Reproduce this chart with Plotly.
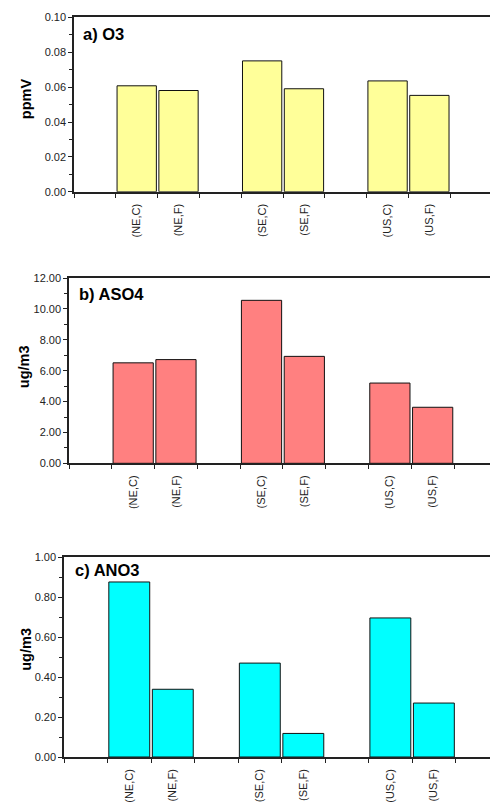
import plotly.graph_objects as go

W, H = 490, 803

# ---- data ----
categories = ["", "(NE,C)", "(NE,F)", " ", "(SE,C)", "(SE,F)", "  ", "(US,C)", "(US,F)", "   "]
bar_labels = ["(NE,C)", "(NE,F)", "(SE,C)", "(SE,F)", "(US,C)", "(US,F)"]
o3_values = [0.0608, 0.0581, 0.0751, 0.0591, 0.0636, 0.0553]
aso4_values = [6.51, 6.72, 10.56, 6.93, 5.20, 3.63]
ano3_values = [0.876, 0.339, 0.470, 0.118, 0.696, 0.270]

panel_titles = ["a) O3", "b) ASO4", "c) ANO3"]
unit_titles = ["ppmV", "ug/m3", "ug/m3"]
colors = ["#FFFF99", "#FF8080", "#00FFFF"]

FONT = "Liberation Sans, Arial, sans-serif"

# ---- layout geometry (pixels) ----
panels = [
    dict(vals=o3_values, left=74, top=11.7, bottom=189.3, xend=9.45,
         yrange=[0, 0.10], dtick=0.02, fmt=".2f",
         lab=(81, 29), ytit=(26, 95)),
    dict(vals=aso4_values, left=69, top=277.3, bottom=466, xend=9.34,
         yrange=[0, 12], dtick=2, fmt=".2f",
         lab=(77, 293), ytit=(24, 368)),
    dict(vals=ano3_values, left=64, top=561.7, bottom=765.3, xend=9.29,
         yrange=[0, 1.0], dtick=0.2, fmt=".2f",
         lab=(73, 575), ytit=(26, 656)),
]

fig = go.Figure()
annotations = []

for i, p in enumerate(panels):
    n = "" if i == 0 else str(i + 1)
    fig.add_trace(go.Bar(
        x=bar_labels, y=p["vals"], width=0.94,
        marker=dict(color=colors[i], line=dict(color="#111111", width=1)),
        xaxis="x" + n, yaxis="y" + n, showlegend=False,
    ))
    ydom = [1 - p["bottom"] / H, 1 - p["top"] / H]
    xdom = [p["left"] / W, 1.0]
    fig.layout["xaxis" + n] = dict(
        domain=xdom, anchor="y" + n, type="category",
        categoryorder="array", categoryarray=categories,
        range=[-0.5, p["xend"]], tickson="boundaries",
        ticks="outside", ticklen=4, tickcolor="#222222", tickwidth=1,
        showline=True, mirror=True, linecolor="#222222", linewidth=1.5,
        tickangle=-90, tickfont=dict(family=FONT, size=11, color="#222222"),
        ticklabelstandoff=6, showgrid=False, zeroline=False, fixedrange=True,
    )
    fig.layout["yaxis" + n] = dict(
        domain=ydom, anchor="x" + n, range=p["yrange"], dtick=p["dtick"],
        tickformat=p["fmt"], ticks="outside", ticklen=4, tickcolor="#222222",
        minor=dict(ticks="outside", ticklen=3, tickcolor="#222222", dtick=p["dtick"] / 2),
        showline=True, linecolor="#222222", linewidth=1.5,
        tickfont=dict(family=FONT, size=11, color="#222222"),
        showgrid=False, zeroline=False, fixedrange=True,
    )
    annotations.append(dict(
        text="<b>" + panel_titles[i] + "</b>", xref="paper", yref="paper",
        x=p["lab"][0] / W, y=1 - p["lab"][1] / H, xanchor="left", yanchor="middle",
        showarrow=False, font=dict(family=FONT, size=16.5, color="black"),
    ))
    annotations.append(dict(
        text="<b>" + unit_titles[i] + "</b>", xref="paper", yref="paper",
        x=p["ytit"][0] / W, y=1 - p["ytit"][1] / H, xanchor="center", yanchor="middle",
        textangle=-90, showarrow=False, font=dict(family=FONT, size=14.5, color="black"),
    ))

fig.update_layout(
    width=W, height=H, margin=dict(l=0, r=0, t=0, b=0),
    paper_bgcolor="white", plot_bgcolor="white",
    bargap=0.06, annotations=annotations,
)

fig.write_html(
    "out.html", config={"displayModeBar": False},
    post_script="document.body.style.margin='0';document.body.style.overflow='hidden';",
)
